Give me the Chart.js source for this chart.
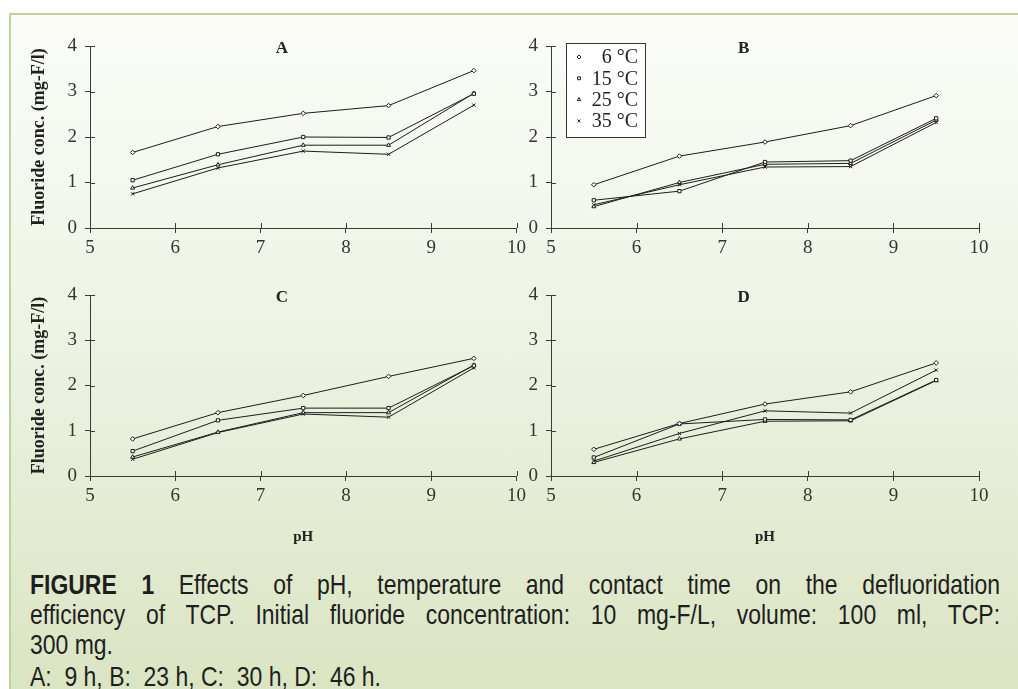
<!DOCTYPE html>
<html>
<head>
<meta charset="utf-8">
<script src="https://cdn.jsdelivr.net/npm/chart.js@4.4.1/dist/chart.umd.min.js"></script>
<style>
  body { margin: 0; background: #fff; width: 1018px; height: 689px; overflow: hidden; position: relative; }
  #frame {
    position: absolute; left: 9px; top: 13px; width: 1020px; height: 690px;
    border-left: 2px solid #bcd39a; border-top: 2px solid #bcd39a;
    background: linear-gradient(to bottom, #fbfcf9 0%, #eef3e4 45%, #d9e4c1 100%);
  }
  canvas { position: absolute; }
  .cap { position: absolute; left: 30px; width: 1183px; transform: scaleX(0.82); transform-origin: 0 0;
         font-family: "Liberation Sans", Arial, sans-serif;
         font-size: 28px; line-height: 30px; color: #1e1e1e; white-space: nowrap; }
  .just { text-align: justify; text-align-last: justify; white-space: normal; }
</style>
</head>
<body>
<div id="frame"></div>
<canvas id="chartA" width="530" height="250" style="left:0;top:20px"></canvas>
<canvas id="chartB" width="500" height="250" style="left:500px;top:20px"></canvas>
<canvas id="chartC" width="530" height="280" style="left:0;top:270px"></canvas>
<canvas id="chartD" width="500" height="280" style="left:500px;top:270px"></canvas>

<div class="cap just" style="top:570px"><b>FIGURE 1</b> Effects of pH, temperature and contact time on the defluoridation</div>
<div class="cap just" style="top:600px">efficiency of TCP. Initial fluoride concentration: 10 mg-F/L, volume: 100 ml, TCP:</div>
<div class="cap" style="top:630px">300 mg.</div>
<div class="cap" style="top:662px">A:&nbsp; 9 h, B:&nbsp; 23 h, C:&nbsp; 30 h, D:&nbsp; 46 h.</div>

<script>
// pH values on the x axis
const phValues = [5.5, 6.5, 7.5, 8.5, 9.5];
const tempLabels = ['6 °C', '15 °C', '25 °C', '35 °C'];
const pointStyles = ['rectRot', 'rect', 'triangle', 'crossRot'];

// fluoride concentration (mg-F/l), one row per temperature: 6, 15, 25, 35 °C
const panelA = [ // 9 h
  [1.66, 2.23, 2.52, 2.69, 3.46],
  [1.05, 1.62, 2.00, 1.99, 2.95],
  [0.88, 1.39, 1.82, 1.82, 2.96],
  [0.75, 1.32, 1.69, 1.62, 2.70]
];
const panelB = [ // 23 h
  [0.95, 1.58, 1.89, 2.25, 2.91],
  [0.61, 0.81, 1.45, 1.48, 2.41],
  [0.47, 1.00, 1.40, 1.42, 2.37],
  [0.51, 0.95, 1.34, 1.35, 2.32]
];
const panelC = [ // 30 h
  [0.82, 1.40, 1.78, 2.20, 2.60],
  [0.55, 1.23, 1.50, 1.50, 2.44],
  [0.42, 0.97, 1.40, 1.40, 2.45],
  [0.37, 0.96, 1.37, 1.30, 2.39]
];
const panelD = [ // 46 h
  [0.59, 1.16, 1.59, 1.86, 2.50],
  [0.41, 1.15, 1.25, 1.24, 2.12],
  [0.30, 0.82, 1.21, 1.22, 2.11],
  [0.33, 0.94, 1.44, 1.39, 2.34]
];

const ink = '#1c1c1c';
const axisColor = '#3a3a3a';
const serif = 'Liberation Serif, Times New Roman, serif';

// ticks drawn on the inside of the axes as well
const innerTicks = {
  id: 'innerTicks',
  beforeDatasetsDraw(chart) {
    const ctx = chart.ctx;
    const x = chart.scales.x, y = chart.scales.y;
    ctx.save();
    ctx.strokeStyle = axisColor;
    ctx.lineWidth = 1;
    ctx.beginPath();
    x.ticks.forEach(t => {
      const px = Math.round(x.getPixelForValue(t.value)) + 0.5;
      ctx.moveTo(px, x.top);
      ctx.lineTo(px, x.top - 5);
    });
    y.ticks.forEach(t => {
      const py = Math.round(y.getPixelForValue(t.value)) + 0.5;
      ctx.moveTo(y.right, py);
      ctx.lineTo(y.right + 5, py);
    });
    ctx.stroke();
    ctx.restore();
  }
};

// panel letter (A, B, C, D)
const panelLabel = {
  id: 'panelLabel',
  afterDraw(chart, args, opts) {
    const ctx = chart.ctx;
    ctx.save();
    ctx.font = 'bold 17px ' + serif;
    ctx.fillStyle = '#222';
    ctx.textAlign = 'center';
    ctx.textBaseline = 'middle';
    ctx.fillText(opts.text, chart.scales.x.getPixelForValue(7.25), chart.scales.y.getPixelForValue(3.95));
    ctx.restore();
  }
};

// boxed legend with markers only
const boxLegend = {
  id: 'boxLegend',
  afterDraw(chart, args, opts) {
    if (!opts.show) return;
    const ctx = chart.ctx;
    const left = chart.chartArea.left + 15, top = chart.chartArea.top - 3;
    const w = 79, h = 94, rowH = 21.3;
    ctx.save();
    ctx.fillStyle = '#fff';
    ctx.strokeStyle = '#333';
    ctx.lineWidth = 1;
    ctx.fillRect(left, top, w, h);
    ctx.strokeRect(left + 0.5, top + 0.5, w, h);
    ctx.font = '20px ' + serif;
    ctx.textAlign = 'right';
    ctx.textBaseline = 'middle';
    chart.data.datasets.forEach((ds, i) => {
      const cy = top + 14 + i * rowH;
      ctx.fillStyle = '#fff';
      ctx.strokeStyle = ink;
      ctx.lineWidth = 1;
      Chart.helpers.drawPoint(ctx, { pointStyle: ds.pointStyle, radius: 2, borderWidth: 1 }, left + 13, cy);
      ctx.fillStyle = '#222';
      ctx.fillText(ds.label, left + w - 7, cy + 1);
    });
    ctx.restore();
  }
};

function makePanel(id, series, letter, opts) {
  const datasets = series.map((vals, i) => ({
    label: tempLabels[i],
    data: phValues.map((ph, j) => ({ x: ph, y: vals[j] })),
    borderColor: ink,
    borderWidth: 1,
    backgroundColor: '#fff',
    pointStyle: pointStyles[i],
    pointRadius: 2.3,
    pointBorderColor: ink,
    pointBackgroundColor: '#fff',
    pointBorderWidth: 1,
    tension: 0,
    fill: false
  }));

  new Chart(document.getElementById(id), {
    type: 'line',
    data: { datasets: datasets },
    options: {
      responsive: false,
      animation: false,
      events: [],
      layout: { padding: { left: 0, right: opts.padRight, top: opts.padTop, bottom: 0 } },
      plugins: {
        legend: { display: false },
        tooltip: { enabled: false },
        panelLabel: { text: letter },
        boxLegend: { show: !!opts.legend }
      },
      scales: {
        x: {
          type: 'linear',
          min: 5, max: 10,
          ticks: { stepSize: 1, color: '#333', padding: 4, font: { family: serif, size: 19 } },
          grid: { drawOnChartArea: false, tickLength: 5, color: axisColor },
          border: { color: axisColor, width: 1 },
          title: { display: !!opts.xTitle, text: 'pH', color: '#222', padding: { top: 0, bottom: 4 },
                   font: { family: serif, size: 15, weight: 'bold' } },
          afterFit(scale) { scale.height = opts.xHeight; }
        },
        y: {
          min: 0, max: 4,
          ticks: { stepSize: 1, color: '#333', padding: 8, font: { family: serif, size: 19 } },
          grid: { drawOnChartArea: false, tickLength: 5, color: axisColor },
          border: { color: axisColor, width: 1 },
          title: { display: !!opts.yTitle, text: 'Fluoride conc. (mg-F/l)', color: '#222', padding: { top: 29, bottom: 0 },
                   font: { family: serif, size: 18, weight: 'bold' } },
          afterFit(scale) { scale.width = opts.yWidth; }
        }
      }
    },
    plugins: [innerTicks, panelLabel, boxLegend]
  });
}

makePanel('chartA', panelA, 'A', { padRight: 12, padTop: 26, xHeight: 42, yWidth: 90, yTitle: true });
makePanel('chartB', panelB, 'B', { padRight: 21, padTop: 26, xHeight: 42, yWidth: 51, legend: true });
makePanel('chartC', panelC, 'C', { padRight: 12, padTop: 25, xHeight: 74, yWidth: 90, yTitle: true, xTitle: true });
makePanel('chartD', panelD, 'D', { padRight: 21, padTop: 25, xHeight: 74, yWidth: 51, xTitle: true });
</script>
</body>
</html>
